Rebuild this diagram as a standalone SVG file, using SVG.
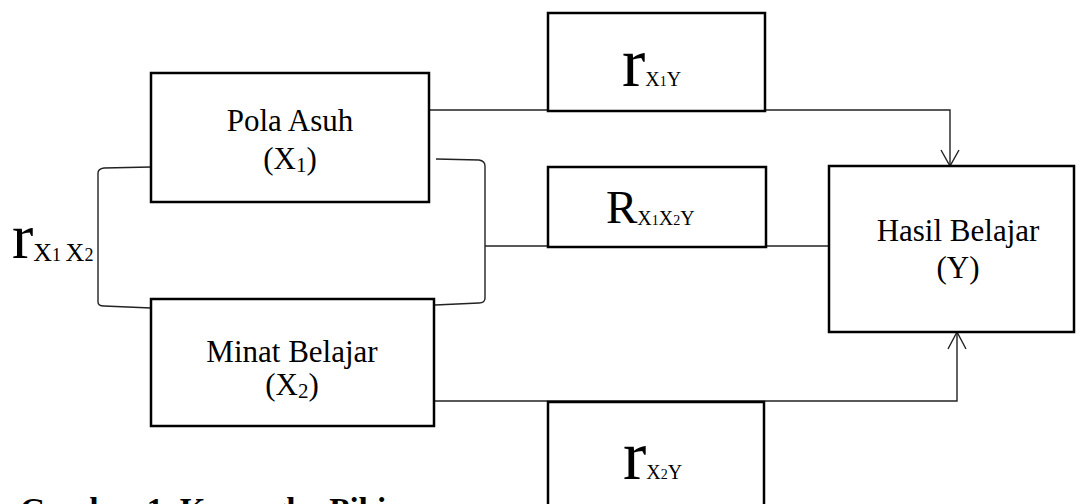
<svg xmlns="http://www.w3.org/2000/svg" width="1083" height="504" viewBox="0 0 1083 504">
  <style>
    .box { fill: #fff; stroke: #000; stroke-width: 2.5; }
    .wire { fill: none; stroke: #222; stroke-width: 1.4; }
    .lbl { font-family: "Liberation Serif", "Times New Roman", serif; fill: #000; }
    .name { font-size: 31px; text-anchor: middle; }
    .big { font-size: 70px; }
    .cap { font-family: "Liberation Serif", "Times New Roman", serif; font-size: 33px; font-weight: bold; fill: #000; }
  </style>

  <!-- connectors -->
  <g id="connectors">
    <!-- X1 to Y -->
    <polyline class="wire" points="429,110 950,110 950,166"/>
    <polyline class="wire" points="941,150 950,166 959,150"/>
    <!-- X2 to Y -->
    <polyline class="wire" points="434,401 957,401 957,332"/>
    <polyline class="wire" points="948,349 957,332 966,349"/>
    <!-- left bracket between X1 and X2 -->
    <path class="wire" d="M151,167 L104,168 Q98,169 98,173 L98,302 Q98,306 104,306 L151,308"/>
    <!-- right bracket joining X1 and X2 -->
    <path class="wire" d="M436,159 L479,160 Q485,161 485,166 L485,298 Q485,303 479,303 L435,305"/>
    <!-- joint path to Y -->
    <line class="wire" x1="485" y1="246" x2="829" y2="246"/>
  </g>

  <!-- Pola Asuh -->
  <g id="node-x1">
    <rect class="box" x="151" y="73" width="278" height="129"/>
    <text class="lbl name" x="290" y="131">Pola Asuh</text>
    <text class="lbl name" x="290" y="169">(X<tspan font-size="21" dy="3">1</tspan><tspan dy="-3">)</tspan></text>
  </g>

  <!-- Minat Belajar -->
  <g id="node-x2">
    <rect class="box" x="151" y="299" width="283" height="127"/>
    <text class="lbl name" x="292" y="362">Minat Belajar</text>
    <text class="lbl name" x="292" y="395">(X<tspan font-size="21" dy="3">2</tspan><tspan dy="-3">)</tspan></text>
  </g>

  <!-- Hasil Belajar -->
  <g id="node-y">
    <rect class="box" x="829" y="166" width="245" height="166"/>
    <text class="lbl name" x="958" y="241">Hasil Belajar</text>
    <text class="lbl name" x="958" y="278">(Y)</text>
  </g>

  <!-- r X1Y -->
  <g id="node-rx1y">
    <rect class="box" x="548" y="13" width="217" height="98"/>
    <text class="lbl" x="622" y="86"><tspan class="big">r</tspan><tspan font-size="20">X</tspan><tspan font-size="14">1</tspan><tspan font-size="20">Y</tspan></text>
  </g>

  <!-- R X1X2Y -->
  <g id="node-rx1x2y">
    <rect class="box" x="548" y="167" width="218" height="80"/>
    <text class="lbl" x="606" y="223"><tspan font-size="47">R</tspan><tspan font-size="20" dy="2">X</tspan><tspan font-size="14">1</tspan><tspan font-size="20">X</tspan><tspan font-size="14">2</tspan><tspan font-size="20">Y</tspan></text>
  </g>

  <!-- r X2Y -->
  <g id="node-rx2y">
    <rect class="box" x="548" y="402" width="216" height="110"/>
    <text class="lbl" x="623" y="479"><tspan class="big">r</tspan><tspan font-size="20">X</tspan><tspan font-size="14">2</tspan><tspan font-size="20">Y</tspan></text>
  </g>

  <!-- correlation label X1 X2 -->
  <g id="label-rx1x2">
    <text class="lbl" x="12" y="258"><tspan font-size="64">r</tspan><tspan font-size="26" dy="3">X</tspan><tspan font-size="18">1 </tspan><tspan font-size="26">X</tspan><tspan font-size="18">2</tspan></text>
  </g>

  <!-- caption -->
  <text class="cap" x="20" y="521">Gambar 1. Kerangka Pikiran</text>
</svg>
